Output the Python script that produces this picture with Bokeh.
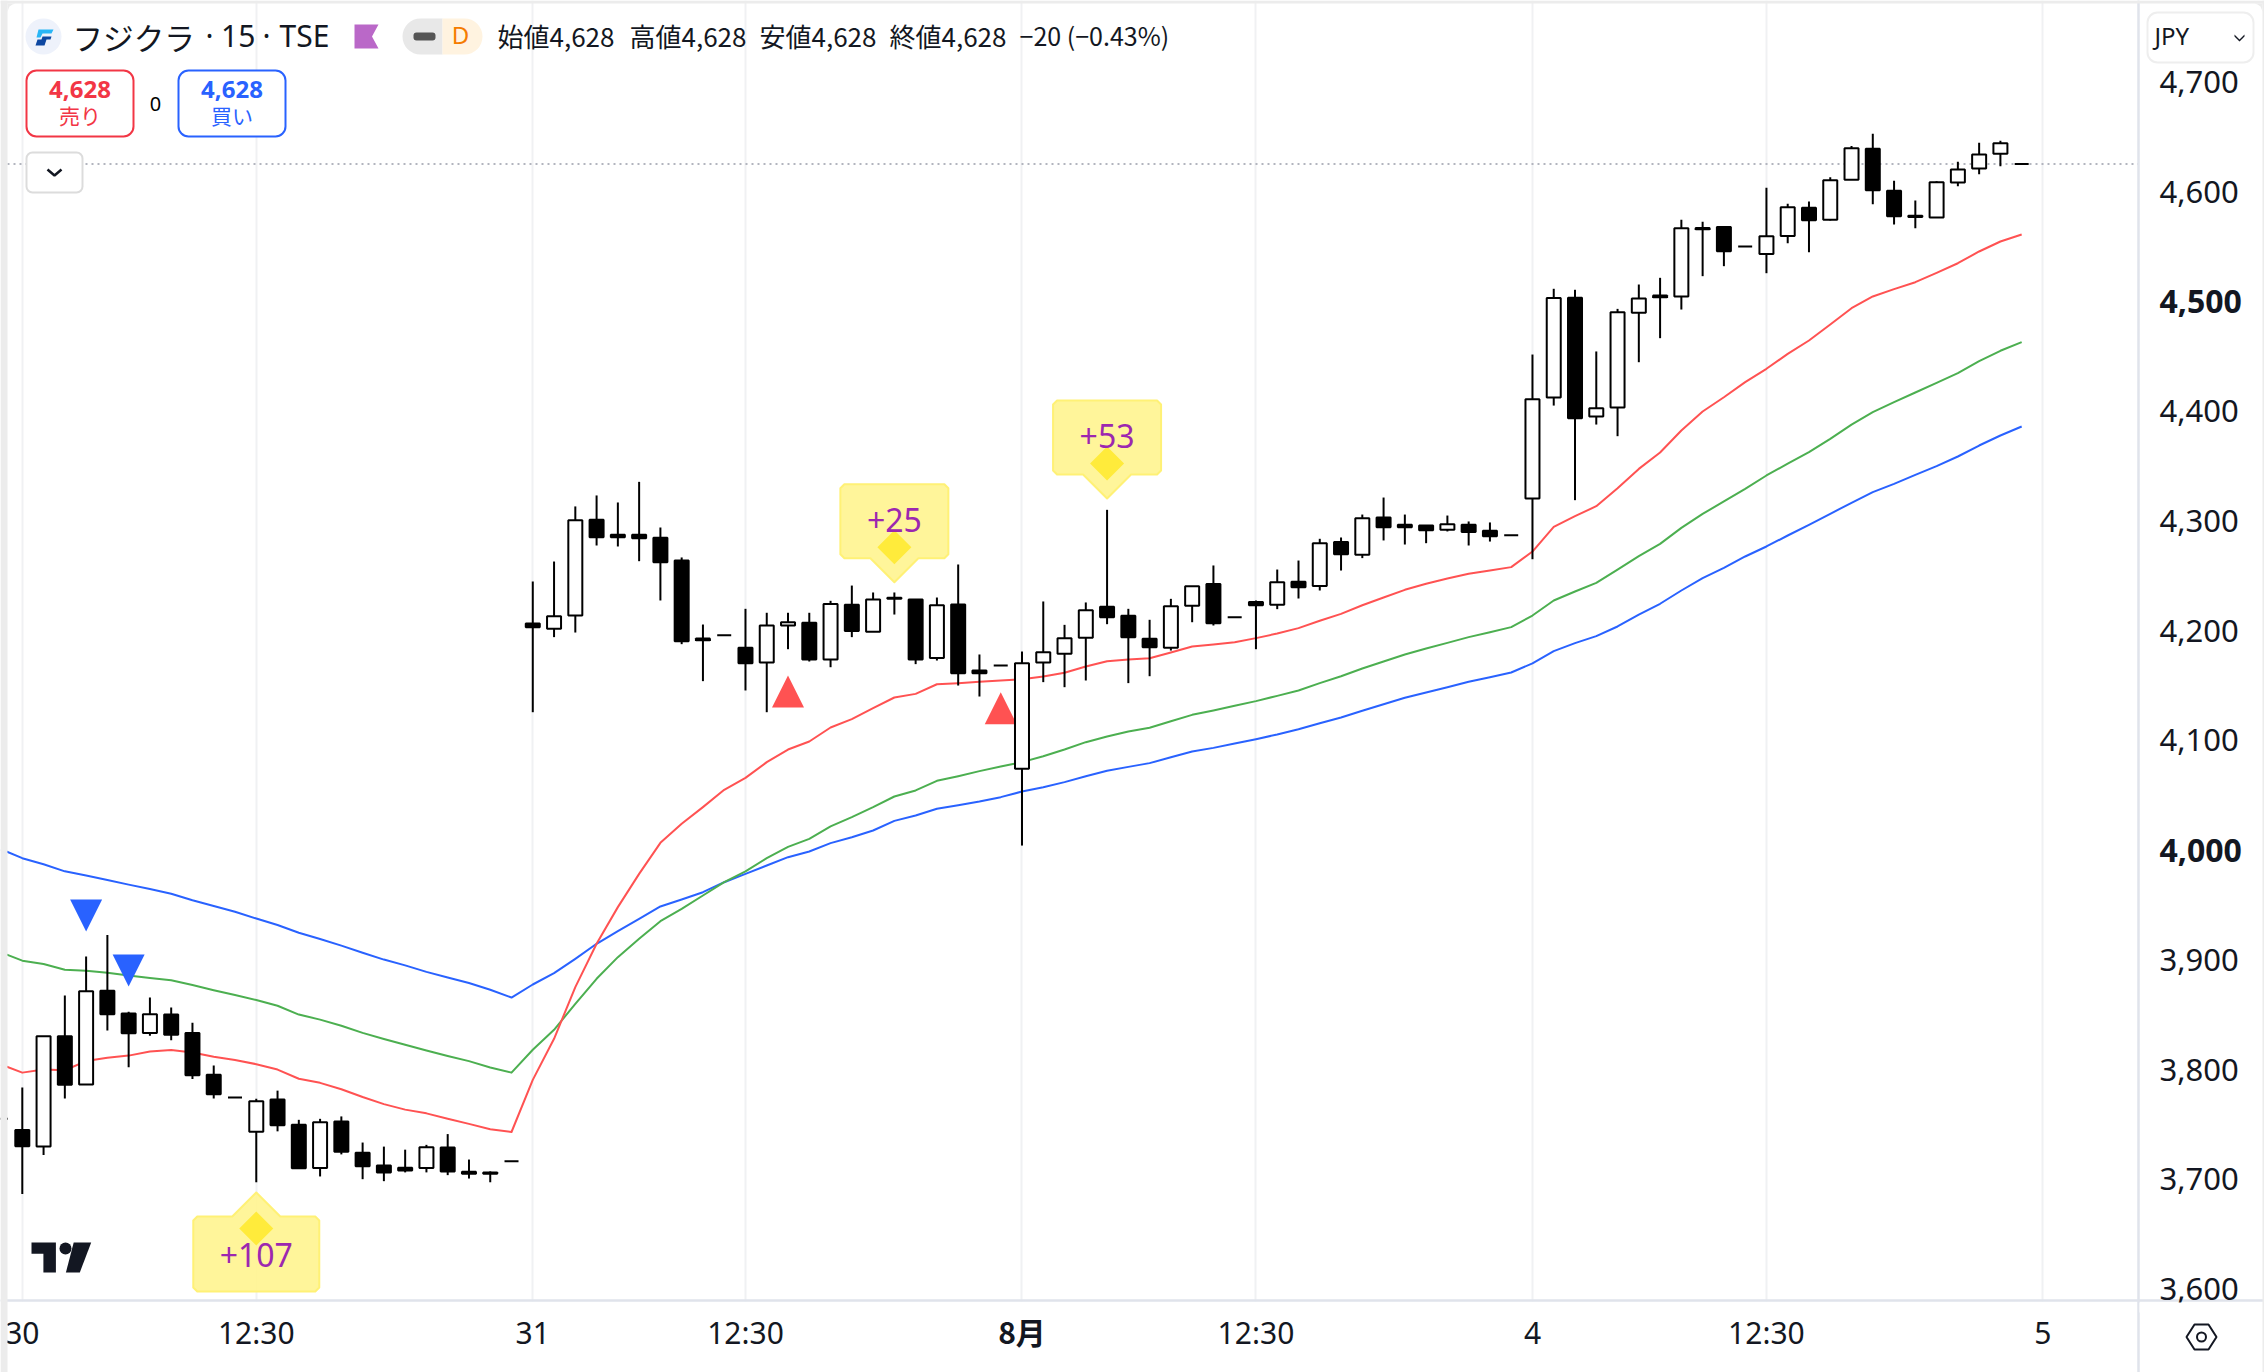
from bokeh.plotting import figure
from bokeh.models import Range1d, FixedTicker, Label, BoxAnnotation, PolyAnnotation, ColumnDataSource, LinearAxis, Grid, NumeralTickFormatter
from bokeh.core.properties import value
from bokeh.embed import file_html
from bokeh.resources import INLINE

# ---------- data ----------
bar_index = list(range(-1, 95))
open_ = [3758, 3747.9, 3732.7, 3833.2, 3789.3, 3874.6, 3853.9, 3836.3, 3853, 3836.3, 3798.2, 3777.5, 3746.3, 3775.7, 3752.5, 3713.2, 3755.6, 3727.1, 3715.4, 3713.5, 3713.2, 3731.8, 3709.8, 3709.2, 3719.4,
         4209.3, 4204.5, 4216.6, 4303.8, 4290.1, 4290.1, 4287.4, 4266.7, 4195.6, 4198.7, 4187.2, 4173.8, 4207.5, 4209.9, 4176.5, 4226.3, 4201.7, 4232.7, 4231.2, 4178, 4226.6, 4166.5, 4171.1,
         4076.9, 4173.8, 4181.7, 4196.3, 4224.5, 4216.3, 4195.4, 4187.2, 4225.4, 4245.4, 4215.1, 4229, 4226.3, 4247.3, 4243.6, 4283.7, 4271.9, 4305.9, 4299.2, 4298.6, 4294.7, 4299.2, 4293.8, 4289.8,
         4323.2, 4415.2, 4506.1, 4397.9, 4406.1, 4492.4, 4508.2, 4507.3, 4569.8, 4570.7, 4552.8, 4546.1, 4562.5, 4588.1, 4577.1, 4613.6, 4641.8, 4603.6, 4580.8, 4579.3, 4611.1, 4623.9, 4637.3, 4628]
high = [3758, 3786.5, 3833.2, 3870.3, 3905.9, 3925.6, 3855.5, 3868.5, 3859.5, 3845.6, 3806.6, 3777.5, 3776.3, 3783.7, 3757.1, 3758, 3760.2, 3736.4, 3732.7, 3729.9, 3734.3, 3744.1, 3720.9, 3710.1, 3719.4,
        4247.6, 4265.8, 4316, 4326, 4319.6, 4338.4, 4296.8, 4269.5, 4208.4, 4198.7, 4222.7, 4219.1, 4219.1, 4219.1, 4230, 4243.9, 4237.6, 4237.6, 4231.2, 4233, 4263.1, 4181.1, 4171.1,
        4183.8, 4229.4, 4208.1, 4228.5, 4312.9, 4222.7, 4212.7, 4231.8, 4243.3, 4262.2, 4215.1, 4230.3, 4258.5, 4266.7, 4286.5, 4287.7, 4308.6, 4324.1, 4308.6, 4298.6, 4307.7, 4302.3, 4301.4, 4289.8,
        4454.4, 4514.3, 4513.4, 4457.2, 4496, 4518.2, 4524.3, 4577.1, 4575.3, 4570.7, 4552.8, 4606.3, 4591.7, 4593.8, 4616, 4644.5, 4655.5, 4612.7, 4594.7, 4612.4, 4630, 4647.3, 4649.1, 4628]
low = [3758, 3689.4, 3725, 3776.6, 3789.3, 3838.4, 3805, 3833.8, 3829.5, 3794.2, 3776.6, 3777.5, 3700.2, 3746.6, 3712.9, 3705.5, 3725.6, 3703, 3701.2, 3709.2, 3709.2, 3706.7, 3703.6, 3700.2, 3719.4,
       4128.5, 4196.9, 4201.1, 4280.4, 4279.5, 4266.1, 4230.3, 4190.5, 4156.8, 4198.7, 4148.3, 4128.5, 4185.9, 4174.7, 4169.5, 4196.9, 4201.7, 4217.5, 4172.3, 4175.6, 4152.8, 4142.8, 4171.1,
       4007, 4155.9, 4151.3, 4157.4, 4208.7, 4155, 4161.3, 4184.7, 4210.5, 4207.5, 4215.1, 4185.9, 4222.4, 4232.1, 4239.4, 4257.6, 4268.9, 4285, 4281.3, 4282.5, 4293.2, 4280.4, 4284, 4289.8,
       4267.9, 4407.9, 4321.7, 4390.6, 4380, 4447.4, 4469.3, 4495.4, 4525.8, 4534.9, 4552.8, 4528.5, 4555.9, 4547.7, 4576.5, 4613.6, 4591.4, 4572.9, 4569.5, 4579.3, 4607.8, 4618.7, 4626, 4628]
close = [3758, 3733.0, 3833.2, 3789, 3874.3, 3853.3, 3836, 3853.3, 3834.7, 3797.6, 3780.3, 3777.5, 3774.1, 3752.2, 3712.9, 3755, 3728, 3714.8, 3709.2, 3711, 3732.1, 3710.1, 3708, 3708, 3719.4,
         4206, 4216, 4303.5, 4288, 4288, 4287, 4265.2, 4193.2, 4194.1, 4198.7, 4173.2, 4207.5, 4210.5, 4176.5, 4227, 4202.4, 4231.2, 4231.8, 4176.5, 4226, 4164.1, 4164.1, 4171.1,
         4173.2, 4183.2, 4195.9, 4221.5, 4215.1, 4196.9, 4187.8, 4225.1, 4243.3, 4209.6, 4215.1, 4226, 4247, 4242.4, 4282.5, 4272.5, 4305.3, 4297.1, 4297.1, 4294.4, 4299.8, 4292.6, 4288.9, 4289.8,
         4413.7, 4505.8, 4396.4, 4405.5, 4493, 4505.4, 4506.7, 4569.5, 4568.6, 4548.6, 4552.8, 4562.2, 4588.7, 4576.8, 4613.3, 4642.4, 4604.2, 4580.5, 4579.6, 4611.4, 4623, 4636.7, 4647, 4628]

ma_blue = [4003.6, 3995.5, 3990, 3983.5, 3979.8, 3975.7, 3971.4, 3967.4, 3963.1, 3957.2, 3951.9, 3946.7, 3940.5, 3934.6, 3927.5, 3921.9, 3915.8, 3909.3, 3903.1, 3897.8, 3891.9, 3886.7, 3881.7, 3875.6, 3868.5,
           3880.4, 3890.7, 3903.8, 3917.5, 3929, 3940.2, 3951.5, 3957.8, 3964.5, 3973.6, 3981.2, 3988.8, 3996.4, 4001.6, 4009.2, 4014.6, 4020.7, 4029.5, 4034.4, 4040.5, 4043.8, 4047.1, 4051.1,
           4056.2, 4060.2, 4064.8, 4070.2, 4075.1, 4078.7, 4082.1, 4087.5, 4092.7, 4096, 4100, 4103.9, 4108.2, 4113, 4118.5, 4123.7, 4129.8, 4135.8, 4141.6, 4146.5, 4151.3, 4156.2, 4160.4, 4164.7,
           4173, 4184.1, 4191.4, 4197.8, 4206.6, 4217.5, 4227.3, 4239.4, 4250.6, 4260, 4270.4, 4279.5, 4289.5, 4299.2, 4309.3, 4319.3, 4329, 4336.6, 4344.8, 4352.7, 4361.5, 4371.5, 4380.6, 4388.8]
ma_green = [3909.7, 3902.1, 3899.1, 3893.8, 3892.9, 3891, 3888.5, 3886.4, 3884.2, 3879.9, 3875.2, 3870.9, 3866.3, 3861, 3853, 3848.4, 3842.8, 3836.3, 3830.7, 3825.5, 3820.2, 3815.3, 3810.6, 3804.8, 3800.1,
            3820.9, 3839.1, 3862.8, 3885.6, 3905.3, 3922, 3938.1, 3949.3, 3961.5, 3973.6, 3983.4, 3995.5, 4005.8, 4013.1, 4024.4, 4032.9, 4042, 4051.7, 4057.2, 4066, 4070.2, 4074.8, 4079,
            4083, 4088.4, 4094.5, 4101.2, 4106.4, 4110.9, 4114.3, 4120.3, 4126.1, 4130.1, 4134.3, 4138.6, 4143.4, 4148.3, 4155, 4161.3, 4168.3, 4174.7, 4181.1, 4186.5, 4191.7, 4196.9, 4201.4, 4206,
            4216.6, 4230.3, 4238.5, 4246.4, 4258.5, 4270.7, 4281.9, 4296.5, 4309.2, 4320.5, 4332, 4344.2, 4355, 4365.4, 4377.6, 4390.6, 4401.9, 4411, 4419.8, 4428.6, 4437.4, 4448.3, 4457.8, 4465.7]
ma_red = [3807.5, 3800.1, 3802.9, 3802.3, 3810.6, 3813.7, 3815.6, 3819.3, 3820.8, 3818.4, 3814.6, 3811.6, 3807.8, 3802.9, 3794.5, 3790.8, 3785, 3777.9, 3771.4, 3766.4, 3763, 3758.1, 3753.4, 3748.5, 3746,
          3793.5, 3830.9, 3878, 3917.5, 3950.9, 3981.2, 4009.5, 4026.8, 4042, 4057.8, 4068.7, 4083, 4094.5, 4101.8, 4114.6, 4122.2, 4132.2, 4141.9, 4145.2, 4154, 4154.9, 4156.2, 4157.4,
          4158.6, 4161, 4164.4, 4170.2, 4175, 4176.5, 4177.7, 4182.9, 4188.4, 4190.2, 4192.3, 4196, 4200.2, 4205.1, 4211.8, 4218.1, 4226, 4233, 4240, 4245.5, 4250.3, 4254.6, 4257.6, 4260.7,
          4274.9, 4297.4, 4307.1, 4316.2, 4332.6, 4350.2, 4365.1, 4385.2, 4402.5, 4415.5, 4429.2, 4441.4, 4455, 4467.2, 4481.8, 4496.6, 4507.3, 4514, 4520.3, 4528.8, 4537.6, 4548.3, 4557.4, 4563.8]

sell_index = [3, 5]
sell_price = [3957.9, 3907.7]
buy_index = [36, 46]
buy_price = [4161.9, 4146.7]
bubble_index = [11, 41, 51]
bubble_price = [3690.9, 4246.9, 4323.2]
bubble_text = ["+107", "+25", "+53"]
bubble_dir = [1, -1, -1]
bubble_half_width = [63, 54, 54]

last_price = 4628
y_ticks = [3600, 3700, 3800, 3900, 4100, 4200, 4300, 4400, 4600, 4700]
y_ticks_bold = [4000, 4500]
x_ticks = [0, 11, 24, 34, 58, 71, 82, 95]
x_labels = ["30", "12:30", "31", "12:30", "12:30", "4", "12:30", "5"]
x_ticks_bold = [47]
x_labels_bold = ["8月"]

for arr in (open_, high, low, close, ma_blue, ma_green, ma_red):
    assert len(arr) == len(bar_index), len(arr)

# ---------- styles ----------
INK = "#131722"
RED = "#ff5252"
GREEN = "#4caf50"
BLUE = "#2962ff"
SELL = "#f23645"
GRID = "#f0f1f3"
EDGE = "#e0e3eb"
STRIP = "#ececec"
SANS = "Noto Sans"
CJK = "Noto Sans CJK JP"

# pixel <-> data mapping of this layout
DX, X0 = 21.27, 21.8
PP = 0.91116
Y0 = 4776.98
def X(px): return (px - X0) / DX
def Y(py): return Y0 - PP * py

W, H = 2264, 1372
PANE_R, PANE_B = 2138, 1300

p = figure(width=W, height=H, output_backend="svg", toolbar_location=None,
           x_range=Range1d(X(0), X(W)), y_range=Range1d(Y(H), Y(0)),
           min_border=0, x_axis_location=None, y_axis_location=None)
p.center = []  # the default grids are replaced below
p.border_fill_color = "white"
p.background_fill_color = "white"
p.outline_line_color = None
# price labels sit slightly above their level, as in the source chart
p.extra_y_ranges = {"price_labels": Range1d(Y(H + 3), Y(3))}

def price_axis(ticks, style, size, standoff):
    ax = LinearAxis(fixed_location=X(PANE_R), y_range_name="price_labels", ticker=FixedTicker(ticks=ticks),
                    formatter=NumeralTickFormatter(format="0,0"),
                    major_label_text_font=SANS, major_label_text_font_size=size,
                    major_label_text_color=INK, major_label_text_font_style=style, major_label_standoff=standoff,
                    major_tick_line_color=None, minor_tick_line_color=None,
                    axis_line_color=EDGE, axis_line_width=2)
    p.add_layout(ax, "right")

def time_axis(ticks, labels, font, style, standoff):
    ax = LinearAxis(fixed_location=Y(PANE_B), ticker=FixedTicker(ticks=ticks),
                    major_label_overrides=dict(zip(ticks, labels)),
                    major_label_text_font=font, major_label_text_font_size="30px",
                    major_label_text_color=INK, major_label_text_font_style=style, major_label_standoff=standoff,
                    major_tick_line_color=None, minor_tick_line_color=None,
                    axis_line_color=EDGE, axis_line_width=2)
    p.add_layout(ax, "below")

price_axis(y_ticks, "normal", "31px", 15)
price_axis(y_ticks_bold, "bold", "32px", 15)
time_axis(x_ticks, x_labels, SANS, "normal", 5)
time_axis(x_ticks_bold, x_labels_bold, CJK, "bold", 2)

p.add_layout(Grid(dimension=0, ticker=FixedTicker(ticks=sorted(x_ticks + x_ticks_bold)), grid_line_color=GRID, grid_line_width=2))
# gridlines stop at the time axis
p.add_layout(BoxAnnotation(left=0, right=W, top=PANE_B + 1, bottom=H, left_units="canvas", right_units="canvas",
                           top_units="canvas", bottom_units="canvas", fill_color="white", fill_alpha=1,
                           line_color=None, level="underlay"))

# last price line
p.line([X(7), X(PANE_R)], [last_price, last_price], line_color="#b2b5be", line_width=2, line_dash="2 4")

# moving averages
for series, colour in ((ma_blue, BLUE), (ma_green, GREEN), (ma_red, RED)):
    p.line(bar_index, series, line_color=colour, line_width=2, line_join="round")

# signal triangles
tw, th = 16, 32
p.patches([[i - tw / DX, i + tw / DX, i] for i in sell_index],
          [[v, v, v - th * PP] for v in sell_price], fill_color=BLUE, line_color=None)
p.patches([[i - tw / DX, i + tw / DX, i] for i in buy_index],
          [[v - th * PP, v - th * PP, v] for v in buy_price], fill_color=RED, line_color=None)

# candles
src = ColumnDataSource(dict(
    x=bar_index, high=high, low=low,
    top=[max(o, c) for o, c in zip(open_, close)],
    bottom=[min(o, c) for o, c in zip(open_, close)],
    fill=["white" if c > o else "black" for o, c in zip(open_, close)],
))
p.segment("x", "high", "x", "low", source=src, line_color="black", line_width=2)
p.vbar("x", top="top", bottom="bottom", width=14 / DX, source=src, fill_color="fill", line_color="black", line_width=2)

# yellow bubbles
bx, by, dx_, dy_, tx, ty = [], [], [], [], [], []
for i, v, d, hw in zip(bubble_index, bubble_price, bubble_dir, bubble_half_width):
    h = 75 if d > 0 else 74
    sh, s = 24, 24
    c = 4
    pts = [(0, 0), (sh, s), (hw - c, s), (hw, s + c), (hw, s + h - c), (hw - c, s + h),
           (-hw + c, s + h), (-hw, s + h - c), (-hw, s + c), (-hw + c, s), (-sh, s)]
    bx.append([i + a / DX for a, b in pts])
    by.append([v - d * b * PP for a, b in pts])
    cy = 36 if d > 0 else 35
    dm = [(0, cy - 17), (17, cy), (0, cy + 17), (-17, cy)]
    dx_.append([i + a / DX for a, b in dm])
    dy_.append([v - d * b * PP for a, b in dm])
    tx.append(i)
    ty.append(v - d * (62.5 if d > 0 else 62.5) * PP)
p.patches(bx, by, fill_color="#fff491", fill_alpha=0.92, line_color="#fff176", line_width=2, line_join="round")
p.patches(dx_, dy_, fill_color="#ffeb3b", line_color=None)
p.text(tx, ty, text=bubble_text, text_color="#9c27b0", text_font=value(SANS), text_font_size="32px",
       text_align="center", text_baseline="middle")

# TradingView mark
p.patches([[X(a) for a in (31, 55.4, 55.4, 42.9, 42.9, 31)], [X(a) for a in (73.2, 90.7, 79.3, 65.4)]],
          [[Y(b) for b in (1242, 1242, 1272, 1272, 1253.3, 1253.3)], [Y(b) for b in (1242, 1242, 1272, 1272)]],
          fill_color=INK, line_color=None)
p.scatter([X(65)], [Y(1248)], marker="circle", size=12, fill_color=INK, line_color=None)

# symbol logo and flag
p.scatter([X(43)], [Y(36)], marker="circle", size=36, fill_color="#eef2fb", line_color=None)
p.patches([[X(a) for a in (38, 53, 51, 42, 40, 36)], [X(a) for a in (42, 51, 50, 46, 44, 35, 37, 41)]],
          [[Y(b) for b in (29, 29, 33, 33, 37, 37)], [Y(b) for b in (36, 36, 39, 39, 45, 45, 39, 39)]],
          fill_color=["#29b6f6", "#0d47a1"], line_color=None)
p.patches([[X(a) for a in (354, 378, 371.5, 378, 354)]], [[Y(b) for b in (24, 24, 36, 48, 48)]],
          fill_color="#ba68c8", line_color=None)

def box(l, t, r, b, fill="white", line=None, lw=1, radius=0, level="annotation"):
    p.add_layout(BoxAnnotation(left=l, right=r, top=t, bottom=b,
                               left_units="canvas", right_units="canvas", top_units="canvas", bottom_units="canvas",
                               fill_color=fill, fill_alpha=1, line_color=line, line_alpha=1, line_width=lw,
                               border_radius=radius, level=level))

def text(px, py, s, size, color=INK, font=SANS, align="left", style="normal", level="annotation"):
    p.add_layout(Label(x=px, y=py, x_units="canvas", y_units="canvas", text=s, text_font=font,
                       text_font_size=f"{size}px", text_color=color,
                       text_align=align, text_baseline="middle", text_font_style=style, level=level))

# interval pill
box(402, 18, 442, 54, fill="#e8e8e8", radius=(18, 0, 0, 18))
box(442, 18, 482, 54, fill="#fff3e0", radius=(0, 18, 18, 0))
box(413, 32, 435, 40, fill="#555555", radius=3)
text(460, 34, "D", 24, color="#f57c00", align="center")

# header
text(72, 36, "フジクラ", 30.6, font=CJK)
text(205, 35, "·", 30)
text(220.5, 35, "15", 30)
text(262, 35, "·", 30)
text(279, 35, "TSE", 30)
for px_, s in zip((497, 629, 759, 889), ("始値4,628", "高値4,628", "安値4,628", "終値4,628")):
    text(px_, 34.5, s, 26, font=CJK)
text(1019, 34.5, "−20 (−0.43%)", 25, font=CJK)

# buy / sell boxes
box(26, 70, 133, 136, line=SELL, lw=2, radius=10)
text(79.5, 88.5, "4,628", 24, color=SELL, align="center", style="bold")
text(79.5, 114.5, "売り", 21, color=SELL, font=CJK, align="center")
text(155, 103, "0", 20, color="black", align="center")
box(178, 70, 285, 136, line=BLUE, lw=2, radius=10)
text(231.5, 88.5, "4,628", 24, color=BLUE, align="center", style="bold")
text(231.5, 114.5, "買い", 21, color=BLUE, font=CJK, align="center")

# collapse button
box(26, 152, 82, 192, line="#dcdcdc", lw=2, radius=6)
p.line([X(47), X(54), X(61)], [Y(169), Y(175), Y(169)], line_color=INK, line_width=2.5, level="overlay")

# price scale chrome
box(2139, 1302, 2260, 1312, level="overlay")
box(2147, 12, 2253, 62, line="#eeeeee", lw=2, radius=10)
text(2154, 35, "JPY", 24)
p.add_layout(PolyAnnotation(xs=[2234, 2239, 2244, 2244, 2239, 2234], ys=[34, 39, 34, 36, 41, 36],
                            xs_units="canvas", ys_units="canvas",
                            fill_color=INK, fill_alpha=1, line_color=None))

# settings icon
p.add_layout(PolyAnnotation(xs=[2186, 2194, 2208, 2216, 2208, 2194], ys=[1336.5, 1324, 1324, 1336.5, 1349, 1349],
                            xs_units="canvas", ys_units="canvas",
                            fill_color="white", fill_alpha=0, line_color=INK, line_width=2, line_alpha=1))
box(2196.5, 1332, 2205.5, 1341, fill="white", line=INK, lw=2, radius=5)

# grey window edge
box(0, 0, 7, H, fill=STRIP, level="overlay")
box(0, 0, W, 3, fill=STRIP, level="overlay")
box(2262, 0, W, H, fill=STRIP, level="overlay")
p.add_layout(PolyAnnotation(xs=[7, 15, 12, 9, 7], ys=[3, 3, 4, 6, 11], xs_units="canvas", ys_units="canvas",
                            fill_color=STRIP, fill_alpha=1, line_color=None, level="overlay"))
p.add_layout(PolyAnnotation(xs=[2262, 2254, 2257, 2260, 2262], ys=[3, 3, 4, 6, 11], xs_units="canvas", ys_units="canvas",
                            fill_color=STRIP, fill_alpha=1, line_color=None, level="overlay"))

open("out.html", "w").write(file_html(p, INLINE))
